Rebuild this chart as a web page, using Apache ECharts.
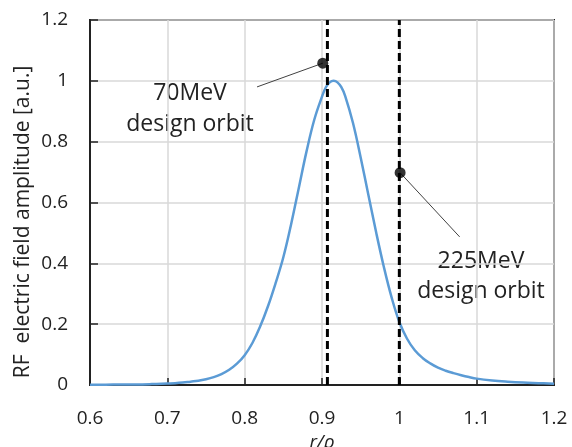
<!DOCTYPE html>
<html>
<head>
<meta charset="utf-8">
<script src="https://cdn.jsdelivr.net/npm/echarts@6/dist/echarts.min.js"></script>
<style>
  html, body { margin: 0; padding: 0; background: #fff; }
  #chart { width: 572px; height: 447px; }
</style>
</head>
<body>
<div id="chart"></div>
<script>
  // r/rho and field amplitude
  const radius = [0.60, 0.62, 0.64, 0.66, 0.68,
    0.70, 0.71, 0.72, 0.73, 0.74, 0.75, 0.76, 0.77, 0.78, 0.79,
    0.80, 0.81, 0.82, 0.83, 0.84, 0.85, 0.86, 0.87, 0.88, 0.89,
    0.90, 0.905, 0.91, 0.915, 0.92, 0.925, 0.93, 0.94, 0.95, 0.96, 0.97, 0.98, 0.99,
    1.00, 1.01, 1.02, 1.03, 1.04, 1.05, 1.06, 1.07, 1.08, 1.09,
    1.10, 1.12, 1.14, 1.16, 1.18, 1.20];
  const amplitude = [0.001, 0.001, 0.002, 0.002, 0.003,
    0.005, 0.006, 0.008, 0.011, 0.014, 0.019, 0.026, 0.036, 0.050, 0.070,
    0.098, 0.138, 0.192, 0.258, 0.335, 0.420, 0.528, 0.648, 0.768, 0.872,
    0.948, 0.979, 0.995, 1.000, 0.995, 0.979, 0.950, 0.862, 0.748, 0.625, 0.502, 0.388, 0.288,
    0.207, 0.152, 0.114, 0.089, 0.071, 0.057, 0.047, 0.039, 0.032, 0.026,
    0.021, 0.015, 0.011, 0.008, 0.006, 0.004];

  // design orbits (dashed lines) and marker dots
  const orbitR = [0.907, 1.0];
  const markerX = [0.901, 1.001];
  const markerY = [1.058, 0.698];
  // where the thin leader lines end
  const leaderX = [0.816, 1.078];
  const leaderY = [0.980, 0.487];
  const orbitText = ['70MeV\ndesign orbit', '225MeV\ndesign orbit'];

  const xTicks = { min: 0.6, max: 1.2, interval: 0.1 };
  const yTicks = { min: 0, max: 1.2, interval: 0.2 };

  const font = '"Open Sans", "Noto Sans", sans-serif';
  const chart = echarts.init(document.getElementById('chart'));

  const series = [{
    type: 'line',
    data: radius.map((r, i) => [r, amplitude[i]]),
    smooth: 0.4,
    showSymbol: false,
    lineStyle: { color: '#5b9bd5', width: 2.5 },
    z: 3
  }];
  orbitR.forEach(r => {
    series.push({
      type: 'line',
      data: [[r, yTicks.min], [r, yTicks.max]],
      showSymbol: false,
      lineStyle: { color: '#000', width: 3, type: [8, 4] },
      z: 4
    });
  });
  markerX.forEach((mx, i) => {
    series.push({
      type: 'line',
      data: [[mx, markerY[i]], [leaderX[i], leaderY[i]]],
      showSymbol: false,
      lineStyle: { color: '#404040', width: 1 },
      z: 5
    });
  });
  series.push({
    type: 'scatter',
    data: markerX.map((mx, i) => [mx, markerY[i]]),
    symbolSize: 11,
    itemStyle: { color: '#000' },
    z: 6
  });

  const option = {
    animation: false,
    grid: {
      left: 90, right: 18, top: 20, bottom: 62,
      outerBoundsMode: 'none',
      show: true, borderColor: '#222', borderWidth: 2
    },
    xAxis: {
      type: 'value',
      min: xTicks.min, max: xTicks.max, interval: xTicks.interval,
      name: 'r/ρ',
      nameLocation: 'middle',
      nameGap: 37,
      nameTextStyle: { fontFamily: font, fontSize: 19, fontStyle: 'italic', color: '#222' },
      axisLine: { lineStyle: { color: '#222', width: 2 } },
      axisTick: { inside: true, length: 7, lineStyle: { color: '#222', width: 1.5 } },
      axisLabel: { fontFamily: font, fontSize: 19, color: '#222', margin: 24 },
      splitLine: { lineStyle: { color: '#d9d9d9', width: 1.5 } }
    },
    yAxis: {
      type: 'value',
      min: yTicks.min, max: yTicks.max, interval: yTicks.interval,
      axisLine: { show: true, lineStyle: { color: '#222', width: 2 } },
      axisTick: { show: true, inside: true, length: 8, lineStyle: { color: '#222', width: 1.5 } },
      axisLabel: { fontFamily: font, fontSize: 19, color: '#222', margin: 22 },
      splitLine: { lineStyle: { color: '#d9d9d9', width: 1.5 } }
    },
    graphic: [{
      type: 'text',
      x: 23, y: 222,
      rotation: Math.PI / 2,
      style: {
        text: 'RF  electric field amplitude [a.u.]',
        font: '21px ' + font,
        fill: '#222',
        textAlign: 'center',
        textVerticalAlign: 'middle'
      }
    }, {
      type: 'text',
      x: 190, y: 109,
      style: {
        text: orbitText[0],
        font: '23px ' + font,
        lineHeight: 31,
        fill: '#222',
        textAlign: 'center',
        textVerticalAlign: 'middle'
      }
    }, {
      type: 'text',
      x: 481, y: 276,
      style: {
        text: orbitText[1],
        font: '23px ' + font,
        lineHeight: 30,
        fill: '#222',
        textAlign: 'center',
        textVerticalAlign: 'middle'
      }
    }],
    series: series
  };
  chart.setOption(option);
</script>
</body>
</html>
